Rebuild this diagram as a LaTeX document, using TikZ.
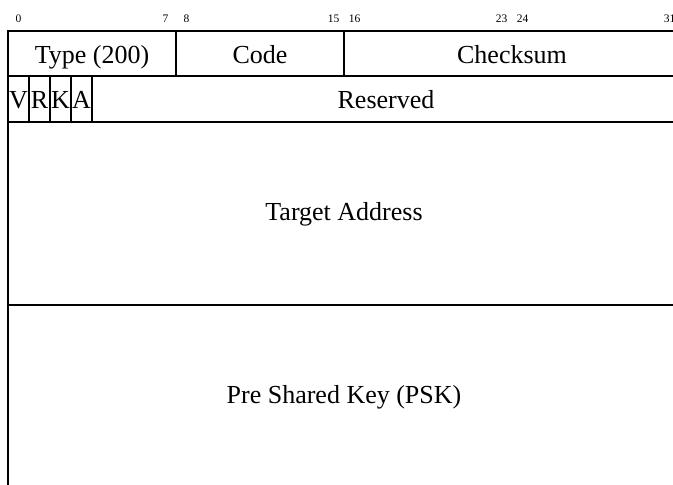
\documentclass[tikz,border=0pt]{standalone}
\usepackage{fontspec}
\setmainfont{Liberation Serif}
\begin{document}
\begin{tikzpicture}[x=1pt, y=-1pt, line width=1.2pt,
  field/.style={font=\fontsize{26}{30}\selectfont, inner sep=0pt, anchor=base},
  bitnum/.style={font=\fontsize{11.5}{13}\selectfont, inner sep=0pt, anchor=base}]
\useasboundingbox (0,0) rectangle (673,485);
\clip (0,0) rectangle (673,485);

% bit positions: 21pt per bit, word starts at x = 8
\foreach \b in {0,7,8,15,16,23,24,31}
  \node[bitnum] (bit\b) at ({8+21*(\b+0.5)}, 22) {\b};

% outer frame and row separators
\draw (680,31) -- (8,31) -- (8,490);
\draw (8,76) -- (680,76);
\draw (8,122) -- (680,122);
\draw (8,305) -- (680,305);
\draw (8,488) -- (680,488);

% first word: Type / Code / Checksum
\draw (176,31) -- (176,76);
\draw (344,31) -- (344,76);
\node[field] (type) at (92,63) {Type (200)};
\node[field] (code) at (260,63) {Code};
\node[field] (checksum) at (512,63) {Checksum};

% second word: flag bits and reserved
\foreach \x in {29,50,71,92}
  \draw (\x,76) -- (\x,122);
\node[field] (v) at (18.5,108) {V};
\node[field] (r) at (39.5,108) {R};
\node[field] (k) at (60.5,108) {K};
\node[field] (a) at (81.5,108) {A};
\node[field] (reserved) at (386,108) {Reserved};

% multi-word fields
\node[field] (target) at (344,220) {Target Address};
\node[field] (psk) at (344,403) {Pre Shared Key (PSK)};
\end{tikzpicture}
\end{document}
